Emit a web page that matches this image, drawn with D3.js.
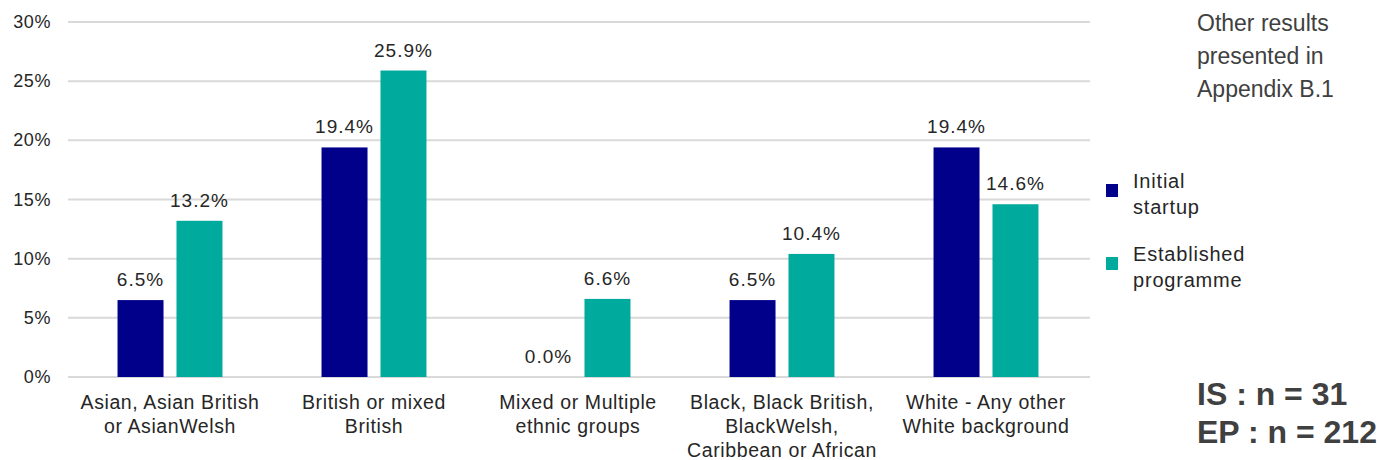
<!DOCTYPE html>
<html>
<head>
<meta charset="utf-8">
<script src="https://cdn.jsdelivr.net/npm/d3@7"></script>
<style>
  body { margin: 0; background: #fff; }
  svg text { font-family: "Liberation Sans", Arial, sans-serif; }
</style>
</head>
<body>
<svg width="1380" height="460"></svg>
<script>
const categories = [
    ["Asian, Asian British", "or AsianWelsh"],
    ["British or mixed", "British"],
    ["Mixed or Multiple", "ethnic groups"],
    ["Black, Black British,", "BlackWelsh,", "Caribbean or African"],
    ["White - Any other", "White background"]
];
const seriesNames = ["Initial startup", "Established programme"];
const initialStartup = [6.5, 19.4, 0.0, 6.5, 19.4];
const establishedProgramme = [13.2, 25.9, 6.6, 10.4, 14.6];
const yTicks = [0, 5, 10, 15, 20, 25, 30];
const colors = ["#00008b", "#00aa9d"];

const svg = d3.select("svg");

const catIdx = categories.map((d, i) => i);
const rows = catIdx.map(i => ({
    cat: i,
    values: [initialStartup[i], establishedProgramme[i]]
}));

const x0 = d3.scaleBand()
    .domain(catIdx)
    .range([68, 1088])
    .padding(0);

const x1 = d3.scaleBand()
    .domain([0, 1])
    .range([0, x0.bandwidth()])
    .paddingInner(0.22)
    .paddingOuter(0.84);

const y = d3.scaleLinear()
    .domain([0, 30])
    .range([377, 22]);

// gridlines
svg.append("g")
    .selectAll("line")
    .data(yTicks)
    .enter()
    .append("line")
    .attr("x1", 68)
    .attr("x2", 1090)
    .attr("y1", d => y(d))
    .attr("y2", d => y(d))
    .attr("stroke", "#d9d9d9")
    .attr("stroke-width", 2);

// y axis labels
svg.append("g")
    .selectAll("text")
    .data(yTicks)
    .enter()
    .append("text")
    .attr("x", 51)
    .attr("y", d => y(d) + 6)
    .attr("text-anchor", "end")
    .attr("font-size", 18)
    .attr("letter-spacing", 0.6)
    .attr("fill", "#262626")
    .text(d => d + "%");

// bars
const groups = svg.append("g")
    .selectAll("g")
    .data(rows)
    .enter()
    .append("g")
    .attr("transform", d => "translate(" + x0(d.cat) + ",0)");

groups.selectAll("rect")
    .data(d => d.values)
    .enter()
    .append("rect")
    .attr("x", (d, i) => x1(i))
    .attr("y", d => y(d))
    .attr("width", x1.bandwidth())
    .attr("height", d => y(0) - y(d))
    .attr("fill", (d, i) => colors[i]);

groups.selectAll("text.val")
    .data(d => d.values)
    .enter()
    .append("text")
    .attr("class", "val")
    .attr("x", (d, i) => x1(i) + x1.bandwidth() / 2)
    .attr("y", d => y(d) - 14)
    .attr("text-anchor", "middle")
    .attr("font-size", 19)
    .attr("letter-spacing", 1)
    .attr("fill", "#262626")
    .text(d => d.toFixed(1) + "%");

// category labels
svg.append("g")
    .selectAll("text")
    .data(catIdx)
    .enter()
    .append("text")
    .attr("x", d => x0(d) + x0.bandwidth() / 2)
    .attr("y", 409)
    .attr("text-anchor", "middle")
    .attr("font-size", 19.5)
    .attr("letter-spacing", 0.6)
    .attr("fill", "#262626")
    .each(function(d) {
        const t = d3.select(this);
        categories[d].forEach((line, k) => {
            t.append("tspan")
                .attr("x", x0(d) + x0.bandwidth() / 2)
                .attr("dy", k === 0 ? 0 : 24)
                .text(line);
        });
    });

// legend
const legendLines = [["Initial", "startup"], ["Established", "programme"]];
const legend = svg.append("g")
    .selectAll("g")
    .data(seriesNames)
    .enter()
    .append("g")
    .attr("transform", (d, i) => "translate(1106," + (184 + i * 73) + ")");

legend.append("rect")
    .attr("width", 12)
    .attr("height", 13)
    .attr("fill", (d, i) => colors[i]);

legend.append("text")
    .attr("x", 27)
    .attr("y", 4)
    .attr("font-size", 20)
    .attr("letter-spacing", 0.8)
    .attr("fill", "#262626")
    .each(function(d, i) {
        const t = d3.select(this);
        legendLines[i].forEach((line, k) => {
            t.append("tspan")
                .attr("x", 27)
                .attr("dy", k === 0 ? 0 : 26)
                .text(line);
        });
    });

// notes
const note = ["Other results", "presented in", "Appendix B.1"];
svg.append("text")
    .attr("x", 1197)
    .attr("y", 31)
    .attr("font-size", 23)
    .attr("fill", "#404040")
    .selectAll("tspan")
    .data(note)
    .enter()
    .append("tspan")
    .attr("x", 1197)
    .attr("dy", (d, i) => i === 0 ? 0 : 33)
    .text(d => d);

const counts = ["IS : n = 31", "EP : n = 212"];
svg.append("text")
    .attr("x", 1197)
    .attr("y", 405)
    .attr("font-size", 32)
    .attr("font-weight", "bold")
    .attr("fill", "#404040")
    .selectAll("tspan")
    .data(counts)
    .enter()
    .append("tspan")
    .attr("x", 1197)
    .attr("dy", (d, i) => i === 0 ? 0 : 38)
    .text(d => d);
</script>
</body>
</html>
